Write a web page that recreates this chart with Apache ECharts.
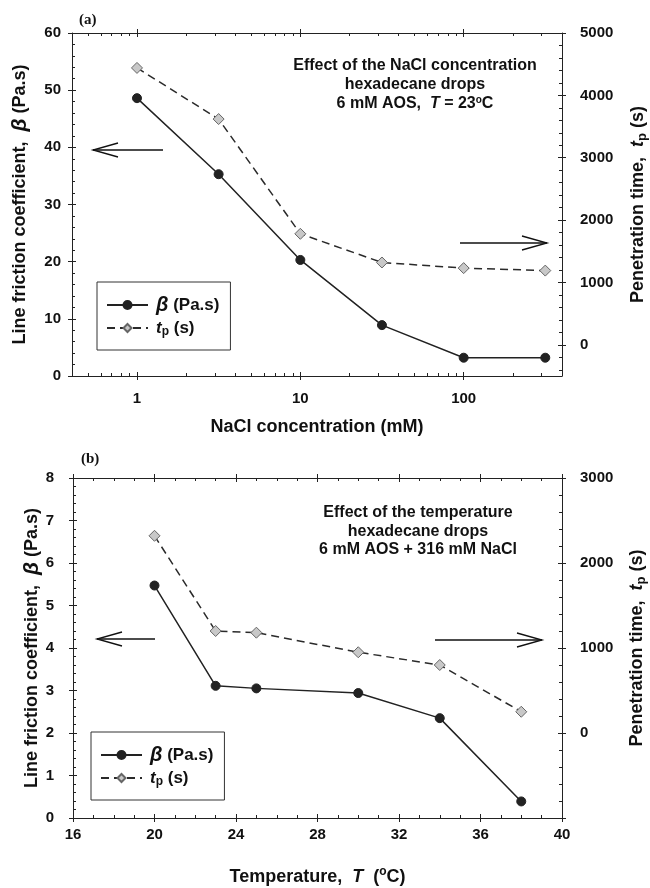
<!DOCTYPE html>
<html>
<head>
<meta charset="utf-8">
<script src="https://cdn.jsdelivr.net/npm/echarts@6/dist/echarts.min.js"></script>
<style>
  html, body { margin: 0; padding: 0; background: #fff; }
  #chart { width: 650px; height: 888px; }
</style>
</head>
<body>
<div id="chart"></div>
<script>
// (a) effect of NaCl concentration
const naclConc = [1, 3.16, 10, 31.6, 100, 316]
const betaNacl = [48.6, 35.3, 20.3, 8.9, 3.2, 3.2]
const tpNacl = [4440, 3620, 1780, 1320, 1230, 1190]

// (b) effect of temperature
const temps = [20, 23, 25, 30, 34, 38]
const betaTemp = [5.47, 3.11, 3.05, 2.94, 2.35, 0.39]
const tpTemp = [2320, 1200, 1180, 950, 800, 250]

// tick labels
const concTicks = [1, 10, 100]
const betaTicksA = [0, 10, 20, 30, 40, 50, 60]
const tpTicksA = [0, 1000, 2000, 3000, 4000, 5000]
const tempTicks = [16, 20, 24, 28, 32, 36, 40]
const betaTicksB = [0, 1, 2, 3, 4, 5, 6, 7, 8]
const tpTicksB = [0, 1000, 2000, 3000]

const FONT = '"Liberation Sans", Arial, sans-serif'
const INK = '#222'

// minor tick positions between the labelled ones
function steps(from, to, step, skip) {
  const out = []
  for (let v = from; v <= to + 1e-9; v += step) {
    const r = Math.round(v * 1000) / 1000
    if (skip.indexOf(r) < 0) out.push(r)
  }
  return out
}
const concMinor = []
;[0.1, 1, 10, 100].forEach(d => {
  for (let k = 2; k <= 9; k++) {
    const v = k * d
    if (v > 0.4 && v < 400) concMinor.push(Math.log10(v))
  }
})

const labelBase = { color: '#111', fontFamily: FONT, fontWeight: 'bold', fontSize: 15, formatter: v => String(v) }
const rich = {
  it: { fontStyle: 'italic', fontSize: 21, fontFamily: FONT, fontWeight: 'bold' },
  t: { fontStyle: 'italic', fontFamily: FONT, fontWeight: 'bold', fontSize: 18 },
  sub: { fontSize: 13, lineHeight: 13, verticalAlign: 'bottom', fontWeight: 'bold', fontFamily: FONT },
  sup: { fontSize: 12, lineHeight: 12, verticalAlign: 'top', fontWeight: 'bold', fontFamily: FONT }
}
const nameStyle = { color: '#111', fontFamily: FONT, fontWeight: 'bold', fontSize: 18, lineHeight: 22, rich: rich }

// frame side: one axis with line, labels and minor ticks, one with crossing major ticks
function side(grid, pos, min, max, majors, minors, label, extra) {
  const base = { type: 'value', gridIndex: grid, position: pos, min: min, max: max, splitLine: { show: false } }
  const line = Object.assign({}, base, {
    nameMoveOverlap: false,
    axisLine: { show: true, onZero: false, lineStyle: { color: INK, width: 1 } },
    axisTick: { show: true, inside: true, length: 3, customValues: minors, lineStyle: { color: INK } },
    axisLabel: label ? Object.assign({ show: true, customValues: majors }, labelBase, label) : { show: false }
  }, extra || {})
  const major = Object.assign({}, base, {
    offset: -4,
    axisLine: { show: false, onZero: false },
    axisTick: { show: true, inside: false, length: 8, customValues: majors, lineStyle: { color: INK } },
    axisLabel: { show: false }
  })
  return [line, major]
}

const lgA = Math.log10(0.4), lgB = Math.log10(400)
const concMajor = concTicks.map(v => Math.log10(v))

const xAxes = [
  { type: 'log', logBase: 10, gridIndex: 0, min: 0.4, max: 400, show: false },
  ...side(0, 'bottom', lgA, lgB, concMajor, concMinor,
    { margin: 15, formatter: v => String(Math.round(Math.pow(10, v))) },
    { name: 'NaCl concentration (mM)', nameLocation: 'middle', nameGap: 40, nameTextStyle: nameStyle }),
  ...side(0, 'top', lgA, lgB, concMajor, concMinor, null),
  { type: 'value', gridIndex: 1, min: 16, max: 40, show: false },
  ...side(1, 'bottom', 16, 40, tempTicks, steps(16, 40, 1, tempTicks),
    { margin: 9 },
    { name: 'Temperature,  {t|T}  ({sup|o}C)', nameLocation: 'middle', nameGap: 48, nameTextStyle: nameStyle }),
  ...side(1, 'top', 16, 40, tempTicks, steps(16, 40, 1, tempTicks), null)
]

const yAxes = [
  { type: 'value', gridIndex: 0, min: 0, max: 60, show: false },
  { type: 'value', gridIndex: 0, min: -500, max: 5000, show: false },
  ...side(0, 'left', 0, 60, betaTicksA, steps(0, 60, 2, betaTicksA),
    { margin: 11 },
    { name: 'Line friction coefficient,  {it|β} (Pa.s)', nameLocation: 'middle', nameRotate: 90, nameGap: 41, nameTextStyle: nameStyle }),
  ...side(0, 'right', -500, 5000, tpTicksA, steps(-400, 4800, 200, tpTicksA),
    { margin: 18 },
    { name: 'Penetration time,  {t|t}{sub|p} (s)', nameLocation: 'middle', nameRotate: 90, nameGap: 65, nameTextStyle: nameStyle }),
  { type: 'value', gridIndex: 1, min: 0, max: 8, show: false },
  { type: 'value', gridIndex: 1, min: -1000, max: 3000, show: false },
  ...side(1, 'left', 0, 8, betaTicksB, steps(0, 8, 0.2, betaTicksB),
    { margin: 19 },
    { name: 'Line friction coefficient,  {it|β} (Pa.s)', nameLocation: 'middle', nameRotate: 90, nameGap: 30, nameTextStyle: nameStyle }),
  ...side(1, 'right', -1000, 3000, tpTicksB.concat([-1000]), steps(-1000, 3000, 200, [-1000].concat(tpTicksB)),
    { margin: 18, customValues: tpTicksB },
    { name: 'Penetration time,  {t|t}{sub|p} (s)', nameLocation: 'middle', nameRotate: 90, nameGap: 64, nameTextStyle: nameStyle })
]

function betaSeries(name, xi, yi, xs, ys) {
  return {
    name: name, type: 'line', xAxisIndex: xi, yAxisIndex: yi, z: 4,
    data: xs.map((x, i) => [x, ys[i]]),
    symbol: 'circle', symbolSize: 9, showAllSymbol: true,
    lineStyle: { color: INK, width: 1.5 },
    itemStyle: { color: '#222', borderColor: '#222', borderWidth: 1 }
  }
}
function tpSeries(name, xi, yi, xs, ys) {
  return {
    name: name, type: 'line', xAxisIndex: xi, yAxisIndex: yi, z: 3,
    data: xs.map((x, i) => [x, ys[i]]),
    symbol: 'diamond', symbolSize: 11, showAllSymbol: true,
    lineStyle: { color: '#2a2a2a', width: 1.5, type: [8, 5] },
    itemStyle: { color: '#c8c8c8', borderColor: '#666', borderWidth: 1 }
  }
}

function legend(top, left, names) {
  return {
    orient: 'vertical', left: left, top: top, data: names,
    selectedMode: false,
    borderColor: '#333', borderWidth: 1, borderRadius: 0,
    padding: [13, 11, 12, 9],
    itemGap: 3, itemWidth: 41, itemHeight: 10,
    formatter: n => n.indexOf('beta') === 0 ? '{it|β} (Pa.s)' : '{t|t}{sub|p} (s)',
    textStyle: {
      color: '#111', fontFamily: FONT, fontWeight: 'bold', fontSize: 17, lineHeight: 20, padding: [0, 0, 0, 3],
      rich: {
        it: { fontStyle: 'italic', fontSize: 20, fontFamily: FONT, fontWeight: 'bold' },
        t: { fontStyle: 'italic', fontSize: 17, fontFamily: FONT, fontWeight: 'bold' },
        sub: { fontSize: 12, lineHeight: 12, verticalAlign: 'bottom', fontWeight: 'bold', fontFamily: FONT }
      }
    }
  }
}

function note(x, y, text) {
  return {
    type: 'text', x: x, y: y, silent: true,
    style: {
      text: text, align: 'center', verticalAlign: 'middle', fill: '#111',
      fontFamily: FONT, fontWeight: 'bold', fontSize: 16, lineHeight: 18,
      rich: {
        it: { fontStyle: 'italic', fontWeight: 'bold', fontSize: 16, fontFamily: FONT },
        sup: { fontSize: 10, lineHeight: 10, verticalAlign: 'top', fontWeight: 'bold', fontFamily: FONT }
      }
    }
  }
}
function arrow(tail, tip, y) {
  const dir = tip > tail ? -1 : 1
  return [
    { type: 'line', silent: true, shape: { x1: tail, y1: y, x2: tip, y2: y }, style: { stroke: '#111', lineWidth: 1.3 } },
    { type: 'polyline', silent: true, shape: { points: [[tip + dir * 25, y - 7], [tip, y], [tip + dir * 25, y + 7]] }, style: { stroke: '#111', lineWidth: 1.3, fill: null } }
  ]
}
function panelLabel(x, y, text) {
  return { type: 'text', x: x, y: y, silent: true, style: { text: text, fill: '#111', font: 'bold 15px "Liberation Serif", "Times New Roman", serif', verticalAlign: 'middle' } }
}

const chart = echarts.init(document.getElementById('chart'))
chart.setOption({
  animation: false,
  backgroundColor: '#fff',
  grid: [
    { left: 72, top: 33, width: 490, height: 343, containLabel: false, outerBoundsMode: 'none' },
    { left: 73, top: 478, width: 489, height: 340, containLabel: false, outerBoundsMode: 'none' }
  ],
  xAxis: xAxes,
  yAxis: yAxes,
  legend: [
    legend(282, 97, ['beta_a', 'tp_a']),
    legend(732, 91, ['beta_b', 'tp_b'])
  ],
  series: [
    tpSeries('tp_a', 0, 1, naclConc, tpNacl),
    betaSeries('beta_a', 0, 0, naclConc, betaNacl),
    tpSeries('tp_b', 5, 7, temps, tpTemp),
    betaSeries('beta_b', 5, 6, temps, betaTemp)
  ],
  graphic: [
    panelLabel(79, 20, '(a)'),
    panelLabel(81, 459, '(b)'),
    note(415, 66, 'Effect of the NaCl concentration'),
    note(415, 85, 'hexadecane drops'),
    note(415, 104, '6 mM AOS,  {it|T} = 23{sup|o}C'),
    note(418, 513, 'Effect of the temperature'),
    note(418, 532, 'hexadecane drops'),
    note(418, 550, '6 mM AOS + 316 mM NaCl'),
    ...arrow(163, 93, 150),
    ...arrow(460, 547, 243),
    ...arrow(155, 97, 639),
    ...arrow(435, 542, 640)
  ]
})
</script>
</body>
</html>
